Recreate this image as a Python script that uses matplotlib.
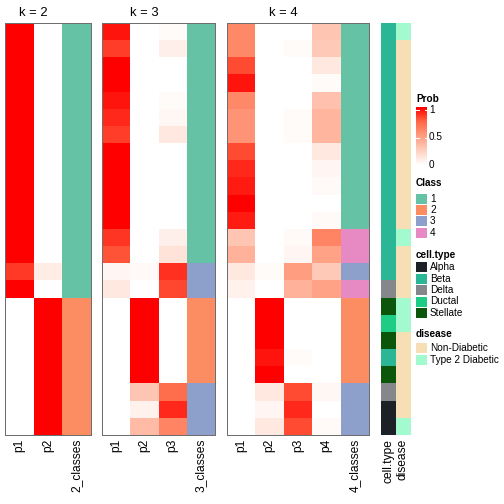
import numpy as np
import matplotlib
matplotlib.use("Agg")
import matplotlib.pyplot as plt
from matplotlib.colors import LinearSegmentedColormap, ListedColormap
from matplotlib.patches import Rectangle

plt.rcParams['font.family'] = ['Liberation Sans', 'DejaVu Sans']

# membership probabilities, one list per column, 24 samples (rows)
k2_p1 = [1, 1, 1, 1, 1, 1, 1, 1, 1, 1, 1, 1, 1, 1, 0.86, 1, 0, 0, 0, 0, 0, 0, 0, 0]
k2_p2 = [0, 0, 0, 0, 0, 0, 0, 0, 0, 0, 0, 0, 0, 0, 0.1, 0, 1, 1, 1, 1, 1, 1, 1, 1]
k2_class = [1] * 16 + [2] * 8

k3_p1 = [0.95, 0.85, 1, 1, 0.95, 0.9, 0.85, 1, 1, 1, 1, 1, 0.87, 0.8, 0.05, 0.12,
         0, 0, 0, 0, 0, 0, 0, 0]
k3_p2 = [0] * 14 + [0.03, 0, 1, 1, 1, 1, 1, 0.3, 0.07, 0.35]
k3_p3 = [0.02, 0.08, 0, 0, 0.02, 0.04, 0.12, 0, 0, 0, 0, 0, 0.08, 0.15, 0.88, 0.83,
         0, 0, 0, 0, 0, 0.72, 0.9, 0.62]
k3_class = [1] * 14 + [3, 3] + [2] * 5 + [3, 3, 3]

k4_p1 = [0.6, 0.6, 0.82, 0.95, 0.6, 0.55, 0.55, 0.82, 0.9, 0.93, 1, 0.93, 0.3, 0.4, 0.12, 0.07,
         0, 0, 0, 0, 0, 0, 0, 0]
k4_p2 = [0] * 14 + [0.02, 0, 1, 1, 1, 0.95, 1, 0.12, 0.05, 0.12]
k4_p3 = [0, 0.02, 0, 0, 0, 0.02, 0.02, 0, 0, 0, 0, 0, 0.03, 0.05, 0.5, 0.4,
         0, 0, 0, 0.02, 0, 0.82, 0.9, 0.82]
k4_p4 = [0.3, 0.28, 0.12, 0.02, 0.32, 0.38, 0.38, 0.12, 0.05, 0.03, 0, 0.03, 0.62, 0.48, 0.28, 0.48,
         0, 0, 0, 0, 0, 0.04, 0, 0.03]
k4_class = [1] * 12 + [4, 4, 3, 4] + [2] * 5 + [3, 3, 3]

cell_type = ['Beta'] * 15 + ['Delta', 'Stellate', 'Ductal', 'Stellate', 'Beta', 'Stellate',
                             'Delta', 'Alpha', 'Alpha']
disease = (['Type 2 Diabetic'] + ['Non-Diabetic'] * 11 + ['Type 2 Diabetic'] + ['Non-Diabetic'] * 3
           + ['Type 2 Diabetic'] * 2 + ['Non-Diabetic'] * 5 + ['Type 2 Diabetic'])

class_names = ['1', '2', '3', '4']
class_colors = ['#66C2A5', '#FC8D62', '#8DA0CB', '#E78AC3']
cell_names = ['Alpha', 'Beta', 'Delta', 'Ductal', 'Stellate']
cell_colors = ['#1C2128', '#2BB796', '#84888C', '#1ECC86', '#0B560B']
disease_names = ['Non-Diabetic', 'Type 2 Diabetic']
disease_colors = ['#F6DEB5', '#A3FACF']

prob_cmap = LinearSegmentedColormap.from_list(
    'prob', [(0, '#FFFFFF'), (0.25, '#FFCFBF'), (0.5, '#FF9E81'), (0.75, '#FF6846'), (1, '#FF0000')])

W = H = 504.0
fig = plt.figure(figsize=(7, 7), dpi=72)
top, bottom = 23.3, 435.0

# legends / titles drawn in pixel coordinates
lg = fig.add_axes([0, 0, 1, 1], zorder=-1)
lg.axis('off')


def px_axes(x0, x1):
    return fig.add_axes([x0 / W, 1 - bottom / H, (x1 - x0) / W, (bottom - top) / H])


panels = [
    (2, [k2_p1, k2_p2], k2_class, 5, 91),
    (3, [k3_p1, k3_p2, k3_p3], k3_class, 102, 215),
    (4, [k4_p1, k4_p2, k4_p3, k4_p4], k4_class, 227, 369),
]
nrow = len(cell_type)

for k, cols, cls, x0, x1 in panels:
    ax = px_axes(x0, x1)
    mat = np.array(cols).T
    ax.imshow(mat, cmap=prob_cmap, vmin=0, vmax=1, aspect='auto', interpolation='nearest',
              extent=(0, k, nrow, 0))
    cmat = np.array(cls).reshape(-1, 1) - 1
    ax.imshow(cmat, cmap=ListedColormap(class_colors), vmin=-0.5, vmax=3.5, aspect='auto',
              interpolation='nearest', extent=(k, k + 1, nrow, 0))
    ax.set_xlim(0, k + 1)
    ax.set_ylim(nrow, 0)
    ax.set_yticks([])
    ax.set_xticks(np.arange(k + 1) + 0.5)
    ax.set_xticklabels(['p%d' % (i + 1) for i in range(k)] + ['%d_classes' % k],
                       rotation=90, fontsize=12)
    ax.tick_params(axis='x', length=0, pad=4)
    for s in ax.spines.values():
        s.set_color('#6E6E6E')
        s.set_linewidth(1)
    # title centered over the probability columns only
    colw = (x1 - x0) / (k + 1.0)
    lg.text(x0 + colw * k / 2.0, 12.5, 'k = %d' % k, ha='center', va='center', fontsize=13)

# annotation columns
ax = px_axes(381, 410)
cidx = np.array([cell_names.index(c) for c in cell_type]).reshape(-1, 1)
didx = np.array([disease_names.index(d) for d in disease]).reshape(-1, 1)
ax.imshow(cidx, cmap=ListedColormap(cell_colors), vmin=-0.5, vmax=4.5, aspect='auto',
          interpolation='nearest', extent=(0, 1, nrow, 0))
ax.imshow(didx, cmap=ListedColormap(disease_colors), vmin=-0.5, vmax=1.5, aspect='auto',
          interpolation='nearest', extent=(1.05, 2.05, nrow, 0))
ax.set_xlim(0, 2.05)
ax.set_ylim(nrow, 0)
ax.set_yticks([])
ax.set_xticks([0.5, 1.55])
ax.set_xticklabels(['cell.type', 'disease'], rotation=90, fontsize=12)
ax.tick_params(axis='x', length=0, pad=4)
for s in ax.spines.values():
    s.set_visible(False)

bx = 416
lg.text(bx, 99, 'Prob', fontsize=10, fontweight='bold', va='center', ha='left')
grad = np.linspace(1, 0, 100).reshape(-1, 1)
lg.imshow(grad, cmap=prob_cmap, vmin=0, vmax=1, aspect='auto', extent=(bx, bx + 11, 165, 107))
for v, yy in [(1, 110), (0.5, 137.5), (0, 165)]:
    lg.text(bx + 13, yy, '%g' % v, fontsize=10, va='center', ha='left')
for yy in [110, 137.5]:
    lg.plot([bx, bx + 2.5], [yy, yy], color='white', lw=1)
    lg.plot([bx + 8.5, bx + 11], [yy, yy], color='white', lw=1)


def legend_block(title, names, colors, ty, y0, step=11.4):
    lg.text(bx, ty, title, fontsize=10, fontweight='bold', va='center', ha='left')
    for i, (n, c) in enumerate(zip(names, colors)):
        yy = y0 + i * step
        lg.add_patch(Rectangle((bx, yy - 5), 11, 10, facecolor=c, edgecolor='none'))
        lg.text(bx + 14, yy, n, fontsize=10, va='center', ha='left')


legend_block('Class', class_names, class_colors, 183, 198.5)
legend_block('cell.type', cell_names, cell_colors, 255, 267.3)
legend_block('disease', disease_names, disease_colors, 334, 348.3)

lg.set_xlim(0, W)
lg.set_ylim(H, 0)

fig.savefig('out.png', dpi=72)
